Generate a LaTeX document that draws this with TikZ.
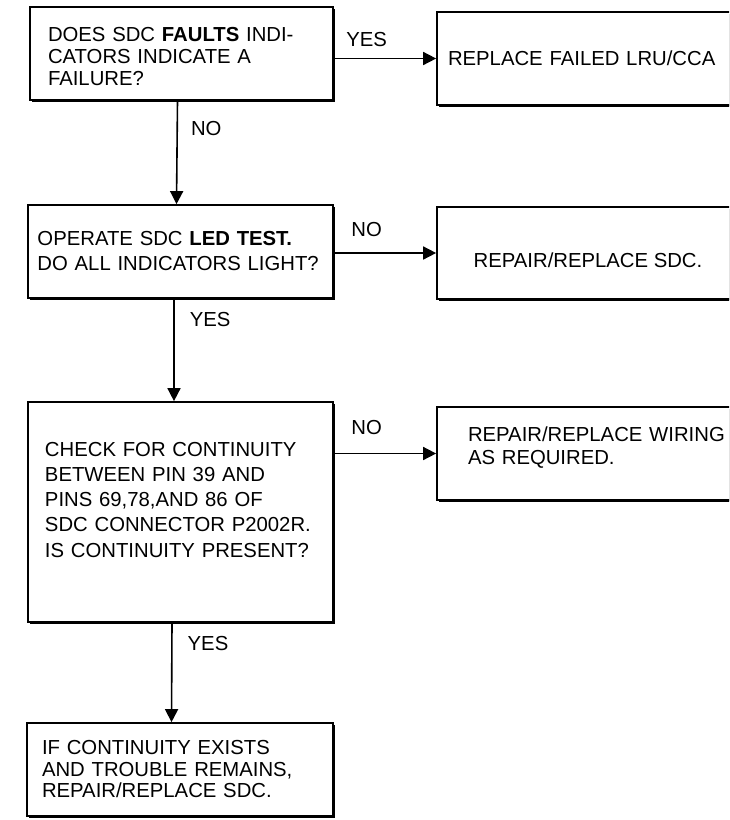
\documentclass[tikz,border=0pt]{standalone}
\usepackage{fontspec}
\setmainfont{Liberation Sans}
\usetikzlibrary{arrows.meta,shadows}

\begin{document}
\begin{tikzpicture}[
        x=1pt, y=-1pt,
        every node/.style={font=\fontsize{20.3}{22}\selectfont},
        box/.style={rectangle, draw, fill=white, line width=1.7pt, inner sep=0pt,
            drop shadow={shadow xshift=1.6pt, shadow yshift=-1.6pt, fill=black, opacity=1}},
        q_box/.style={box, align=left, minimum height=93pt},
        act_box/.style={box, minimum height=93pt},
        lbl/.style={inner sep=1pt},
        flow/.style={line width=1.6pt, -{Triangle[length=13pt, width=13pt]}}
    ]

        \path[use as bounding box, clip] (0,0) rectangle (729,820);

        \node[q_box, minimum width=303pt, text width=267pt, text height=21pt] (faults_q) at (181.5,53.5)
            {DOES SDC \textbf{FAULTS} INDI-\\CATORS INDICATE A\\FAILURE?};
        \node[act_box, align=left, minimum width=310pt, text width=288pt] (replace_lru) at (592,58.5)
            {REPLACE FAILED LRU/CCA};

        \node[q_box, minimum width=305pt, text width=286pt, font=\fontsize{20.3}{25}\selectfont] (led_q) at (180.5,251.5)
            {OPERATE SDC \textbf{LED TEST.}\\DO ALL INDICATORS LIGHT?};
        \node[act_box, align=center, minimum width=302pt, minimum height=92pt, text height=28.5pt] (repair_sdc) at (588,253)
            {REPAIR/REPLACE SDC.};

        \node[q_box, minimum width=305pt, minimum height=220pt, text width=271pt, text depth=126pt,
            font=\fontsize{20.3}{25.25}\selectfont] (cont_q) at (180.5,512)
            {CHECK FOR CONTINUITY\\BETWEEN PIN 39 AND\\PINS 69,78,AND 86 OF\\SDC CONNECTOR P2002R.\\IS CONTINUITY PRESENT?};
        \node[act_box, align=left, minimum width=324pt, text width=262pt, text depth=38.5pt,
            font=\fontsize{20.3}{23}\selectfont] (repair_wiring) at (599,453.5)
            {REPAIR/REPLACE WIRING\\AS REQUIRED.};

        \node[q_box, minimum width=306pt, minimum height=93pt, text width=276pt,
            font=\fontsize{20.3}{21.5}\selectfont] (final_sdc) at (180,769.5)
            {IF CONTINUITY EXISTS\\AND TROUBLE REMAINS,\\REPAIR/REPLACE SDC.};

        \draw[flow] (faults_q.east |- replace_lru.west) -- (replace_lru.west)
            node[lbl, pos=0.32, above=10pt] {YES};
        \draw[flow] ([xshift=-4pt]faults_q.south) -- ([xshift=-4pt]led_q.north)
            node[lbl, pos=0.27, right=12pt] {NO};

        \draw[flow] (led_q.east |- repair_sdc.west) -- (repair_sdc.west)
            node[lbl, pos=0.32, above=15pt] {NO};
        \draw[flow] ([xshift=-6.5pt]led_q.south) -- ([xshift=-6.5pt]cont_q.north)
            node[lbl, pos=0.2, right=14pt] {YES};

        \draw[flow] (cont_q.east |- repair_wiring.west) -- (repair_wiring.west)
            node[lbl, pos=0.32, above=17pt] {NO};
        \draw[flow] ([xshift=-8.5pt]cont_q.south) -- ([xshift=-8.5pt]final_sdc.north)
            node[lbl, pos=0.21, right=14pt] {YES};

    \end{tikzpicture}
\end{document}
